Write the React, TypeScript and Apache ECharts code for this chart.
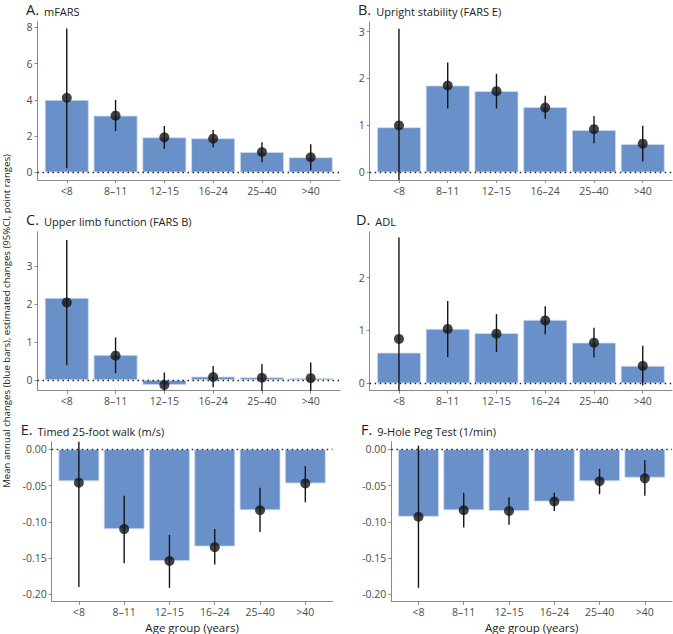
import React, { useEffect, useRef } from 'react';
import * as echarts from 'echarts';

const categories = ['<8', '8–11', '12–15', '16–24', '25–40', '>40'];
const positions = [1, 2, 3, 4, 5, 6];

// A. mFARS
const barsA = [4.0, 3.13, 1.93, 1.88, 1.12, 0.83];
const estA = [4.12, 3.13, 1.93, 1.86, 1.12, 0.83];
const loA = [0.22, 2.28, 1.29, 1.38, 0.55, 0.11];
const hiA = [7.95, 4.0, 2.56, 2.34, 1.66, 1.55];

// B. Upright stability (FARS E)
const barsB = [0.96, 1.85, 1.73, 1.39, 0.9, 0.6];
const estB = [1.0, 1.85, 1.73, 1.38, 0.92, 0.61];
const loB = [-0.6, 1.36, 1.36, 1.14, 0.62, 0.23];
const hiB = [3.06, 2.34, 2.1, 1.63, 1.2, 0.99];

// C. Upper limb function (FARS B)
const barsC = [2.16, 0.66, -0.13, 0.09, 0.07, 0.05];
const estC = [2.04, 0.64, -0.13, 0.08, 0.06, 0.05];
const loC = [0.39, 0.18, -0.45, -0.19, -0.35, -0.35];
const hiC = [3.68, 1.12, 0.2, 0.37, 0.42, 0.46];

// D. ADL
const barsD = [0.58, 1.03, 0.95, 1.2, 0.77, 0.33];
const estD = [0.84, 1.03, 0.94, 1.19, 0.77, 0.33];
const loD = [-0.6, 0.5, 0.59, 0.93, 0.49, -0.04];
const hiD = [2.76, 1.56, 1.31, 1.46, 1.05, 0.71];

// E. Timed 25-foot walk (m/s)
const barsE = [-0.044, -0.11, -0.154, -0.134, -0.084, -0.047];
const estE = [-0.046, -0.11, -0.154, -0.135, -0.084, -0.047];
const loE = [-0.19, -0.157, -0.191, -0.159, -0.114, -0.073];
const hiE = [0.02, -0.064, -0.118, -0.11, -0.053, -0.023];

// F. 9-Hole Peg Test (1/min)
const barsF = [-0.093, -0.084, -0.085, -0.072, -0.044, -0.039];
const estF = [-0.093, -0.084, -0.085, -0.072, -0.044, -0.04];
const loF = [-0.191, -0.108, -0.104, -0.085, -0.062, -0.064];
const hiF = [0.005, -0.06, -0.066, -0.06, -0.027, -0.015];

const panelLetters = ['A.', 'B.', 'C.', 'D.', 'E.', 'F.'];
const panelTitles = [
  'mFARS',
  'Upright stability (FARS E)',
  'Upper limb function (FARS B)',
  'ADL',
  'Timed 25-foot walk (m/s)',
  '9-Hole Peg Test (1/min)',
];
const yTicksA = [0, 2, 4, 6, 8];
const yTicksB = [0, 1, 2, 3];
const yTicksC = [0, 1, 2, 3];
const yTicksD = [0, 1, 2];
const yTicksE = [0, -0.05, -0.1, -0.15, -0.2];
const yTicksF = [0, -0.05, -0.1, -0.15, -0.2];

const yAxisTitle = 'Mean annual changes (blue bars), estimated changes (95%CI, point ranges)';
const xAxisTitle = 'Age group (years)';

const FONT = '"Open Sans", "Noto Sans", sans-serif';
const BAR = '#6990c8';
const AXIS = '#8a8a8a';
const TICKTXT = '#4d4d4d';

export default function App() {
  const ref = useRef<HTMLDivElement>(null);
  useEffect(() => {
    if (!ref.current) return;
    const chart = echarts.init(ref.current, undefined, { renderer: 'svg' });

    const panels = [
      { bars: barsA, est: estA, lo: loA, hi: hiA, ticks: yTicksA, min: -0.425, max: 8.32, dec: 0 },
      { bars: barsB, est: estB, lo: loB, hi: hiB, ticks: yTicksB, min: -0.164, max: 3.21, dec: 0 },
      { bars: barsC, est: estC, lo: loC, hi: hiC, ticks: yTicksC, min: -0.28, max: 3.9, dec: 0 },
      { bars: barsD, est: estD, lo: loD, hi: hiD, ticks: yTicksD, min: -0.14, max: 2.87, dec: 0 },
      { bars: barsE, est: estE, lo: loE, hi: hiE, ticks: yTicksE, min: -0.2102, max: 0.0105, dec: 2 },
      { bars: barsF, est: estF, lo: loF, hi: hiF, ticks: yTicksF, min: -0.2102, max: 0.0105, dec: 2 },
    ];
    const grids = [
      { left: 37.5, top: 21.7, width: 302.5, height: 158.3 },
      { left: 369.7, top: 21.7, width: 302.3, height: 158.3 },
      { left: 37.5, top: 231.7, width: 302.5, height: 159 },
      { left: 369.7, top: 231.7, width: 302.3, height: 159 },
      { left: 51.7, top: 441.7, width: 280.8, height: 160 },
      { left: 391.3, top: 441.7, width: 280.7, height: 160 },
    ];

    const series: any[] = [];
    panels.forEach((p, i) => {
      const band = grids[i].width / 6.2;
      series.push({
        type: 'bar',
        xAxisIndex: i,
        yAxisIndex: i,
        barWidth: band * 0.9,
        data: positions.map((x, k) => [x, p.bars[k]]),
        itemStyle: { color: BAR, borderColor: '#cddbef', borderWidth: 0.8 },
        z: 2,
        markLine: {
          silent: true,
          symbol: 'none',
          label: { show: false },
          lineStyle: { type: [1.5, 3.5], color: '#222', width: 1.3 },
          data: [{ yAxis: 0 }],
          z: 3,
        },
      });
      series.push({
        type: 'custom',
        xAxisIndex: i,
        yAxisIndex: i,
        z: 4,
        data: positions.map((x, k) => [x, p.lo[k], p.hi[k]]),
        encode: { x: 0, y: [1, 2] },
        renderItem: (params: any, api: any) => {
          const x = api.value(0);
          const a = api.coord([x, api.value(1)]);
          const b = api.coord([x, api.value(2)]);
          const cs = params.coordSys;
          const clamp = (v: number) => Math.max(cs.y, Math.min(cs.y + cs.height, v));
          return {
            type: 'line',
            shape: { x1: a[0], y1: clamp(a[1]), x2: b[0], y2: clamp(b[1]) },
            style: { stroke: '#151515', lineWidth: 1.4 },
          };
        },
      });
      series.push({
        type: 'scatter',
        xAxisIndex: i,
        yAxisIndex: i,
        z: 5,
        symbol: 'circle',
        symbolSize: 10,
        itemStyle: { color: '#151515' },
        data: positions.map((x, k) => [x, p.est[k]]),
      });
    });

    const option: any = {
      animation: false,
      backgroundColor: '#ffffff',
      grid: grids.map((g) => ({ ...g, containLabel: false, outerBoundsMode: 'none' })),
      xAxis: grids.map((_, i) => ({
        type: 'value',
        gridIndex: i,
        min: 0.4,
        max: 6.6,
        splitLine: { show: false },
        axisLine: { show: true, onZero: false, lineStyle: { color: AXIS, width: 1 } },
        axisTick: { show: true, length: 3, customValues: positions, lineStyle: { color: AXIS } },
        axisLabel: {
          show: true,
          customValues: positions,
          margin: 5,
          color: TICKTXT,
          fontSize: 10.5,
          fontFamily: FONT,
          formatter: (v: number) => categories[Math.round(v) - 1] ?? '',
        },
      })),
      yAxis: panels.map((p, i) => ({
        type: 'value',
        gridIndex: i,
        min: p.min,
        max: p.max,
        splitLine: { show: false },
        axisLine: { show: true, onZero: false, lineStyle: { color: AXIS, width: 1 } },
        axisTick: { show: true, length: 3, customValues: p.ticks, lineStyle: { color: AXIS } },
        axisLabel: {
          show: true,
          customValues: p.ticks,
          margin: 5,
          color: TICKTXT,
          fontSize: 10.5,
          fontFamily: FONT,
          formatter: (v: number) => v.toFixed(p.dec),
        },
      })),
      title: grids.map((g, i) => ({
        text: `{l|${panelLetters[i]}} {t|${panelTitles[i]}}`,
        left: [26, 358, 26, 356, 20.7, 361][i],
        top: g.top - 23,
        padding: 0,
        textStyle: {
          fontWeight: 'normal',
          rich: {
            l: { fontSize: 14.5, fontWeight: 'normal', color: '#222', fontFamily: FONT, verticalAlign: 'bottom', lineHeight: 16 },
            t: { fontSize: 11, fontWeight: 'normal', color: '#222', fontFamily: FONT, verticalAlign: 'bottom', lineHeight: 16 },
          },
        },
      })),
      graphic: [
        {
          type: 'text',
          x: 6,
          y: 321,
          rotation: Math.PI / 2,
          style: {
            text: yAxisTitle,
            fontSize: 9.6,
            fontFamily: FONT,
            fill: '#222',
            align: 'center',
            verticalAlign: 'middle',
          },
        },
        {
          type: 'text',
          x: grids[4].left + grids[4].width / 2,
          y: 627,
          style: {
            text: xAxisTitle,
            fontSize: 11.5,
            fontFamily: FONT,
            fill: '#222',
            align: 'center',
            verticalAlign: 'middle',
          },
        },
        {
          type: 'text',
          x: grids[5].left + grids[5].width / 2,
          y: 627,
          style: {
            text: xAxisTitle,
            fontSize: 11.5,
            fontFamily: FONT,
            fill: '#222',
            align: 'center',
            verticalAlign: 'middle',
          },
        },
      ],
      series,
    };
    chart.setOption(option);
    return () => chart.dispose();
  }, []);

  return (
    <div
      ref={ref}
      style={{ position: 'fixed', left: 0, top: 0, width: 673, height: 634, background: '#fff' }}
    />
  );
}
